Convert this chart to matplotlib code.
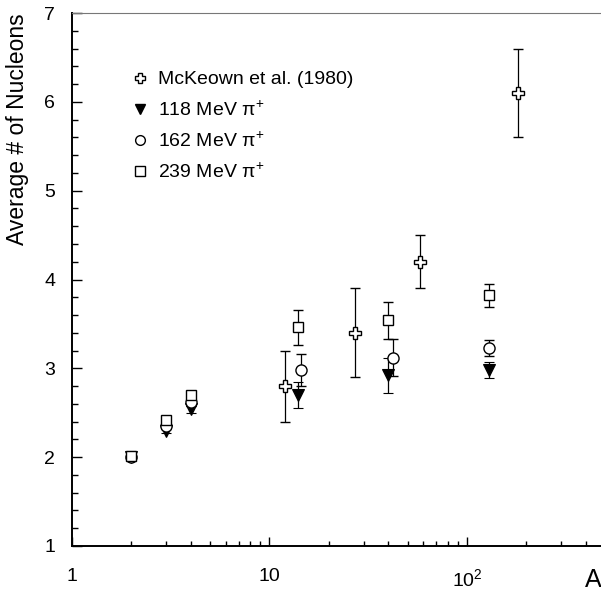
import matplotlib
matplotlib.use("Agg")
import matplotlib.pyplot as plt
from matplotlib.ticker import FixedLocator, FixedFormatter, MultipleLocator
from matplotlib.lines import Line2D

plt.rcParams['font.family'] = ['Liberation Sans', 'DejaVu Sans']
plt.rcParams['mathtext.fontset'] = 'custom'
plt.rcParams['mathtext.rm'] = 'Liberation Sans'
plt.rcParams['mathtext.it'] = 'Liberation Sans:italic'

# McKeown et al. (1980)
mck_A = [12, 27, 58, 181]
mck_N = [2.8, 3.4, 4.2, 6.1]
mck_err = [0.4, 0.5, 0.3, 0.5]

# 118 MeV pi+
a118 = [2, 3, 4, 14, 40, 130]
n118 = [2.00, 2.30, 2.54, 2.70, 2.92, 2.98]
e118 = [0.02, 0.03, 0.04, 0.15, 0.20, 0.09]

# 162 MeV pi+
a162 = [2, 3, 4, 14.5, 42, 130]
n162 = [2.00, 2.35, 2.62, 2.98, 3.12, 3.23]
e162 = [0.02, 0.03, 0.04, 0.18, 0.21, 0.09]

# 239 MeV pi+
a239 = [2, 3, 4, 14, 40, 130]
n239 = [2.01, 2.42, 2.70, 3.46, 3.54, 3.82]
e239 = [0.02, 0.03, 0.05, 0.20, 0.21, 0.13]

labels = ["McKeown et al. (1980)", "118 MeV π$^{+}$",
          "162 MeV π$^{+}$", "239 MeV π$^{+}$"]
xticks = [1, 10, 100]
xticklabels = ["1", "10", r"$10^{2}$"]

fig = plt.figure(figsize=(6.01, 5.94), dpi=100)
ax = fig.add_axes([72/601, 48/594, 529/601, 533/594])

ax.set_xscale('log')
ax.set_xlim(1, 477)
ax.set_ylim(1, 7)

ebkw = dict(ecolor='black', elinewidth=0.9, capsize=3.6, capthick=0.9,
            linestyle='none', markeredgecolor='black')

ax.errorbar(mck_A, mck_N, yerr=mck_err, marker='P', markersize=9,
            markerfacecolor='white', markeredgewidth=1.0, zorder=3, **ebkw)
ax.errorbar(a118, n118, yerr=e118, marker='v', markersize=8,
            markerfacecolor='black', markeredgewidth=0.8, zorder=4, **ebkw)
ax.errorbar(a162, n162, yerr=e162, marker='o', markersize=8,
            markerfacecolor='white', markeredgewidth=1.0, zorder=5, **ebkw)
ax.errorbar(a239, n239, yerr=e239, marker='s', markersize=7.5,
            markerfacecolor='white', markeredgewidth=1.0, zorder=6, **ebkw)

# axes frame
ax.spines['right'].set_visible(False)
ax.spines['top'].set_color('#777777')
ax.spines['top'].set_linewidth(0.8)
for s in ('left', 'bottom'):
    ax.spines[s].set_linewidth(1.4)
    ax.spines[s].set_color('black')

ax.xaxis.set_major_locator(FixedLocator(xticks))
ax.xaxis.set_major_formatter(FixedFormatter(xticklabels))
minors = [m * 10**d for d in range(0, 3) for m in range(2, 10)]
ax.xaxis.set_minor_locator(FixedLocator(minors))
ax.xaxis.set_minor_formatter(FixedFormatter([]))
ax.yaxis.set_major_locator(MultipleLocator(1))
ax.yaxis.set_minor_locator(MultipleLocator(0.2))

ax.tick_params(axis='both', which='both', direction='in', top=False, right=False,
               color='black', width=1.0)
ax.tick_params(axis='x', which='major', length=6.5, labelsize=14, pad=16)
ax.tick_params(axis='x', which='minor', length=3.6)
ax.tick_params(axis='y', which='major', length=7.2, labelsize=14, pad=12)
ax.tick_params(axis='y', which='minor', length=4.0)

fig.text(18/601, 1 - 13/594, "Average # of Nucleons", rotation=90,
         ha='center', va='top', fontsize=16.5)
fig.text(593/601, 1 - 580/594, "A", ha='center', va='center', fontsize=18)

handles = [
    Line2D([], [], marker='P', markersize=7, markerfacecolor='white',
           markeredgecolor='black', linestyle='none'),
    Line2D([], [], marker='v', markersize=7, markerfacecolor='black',
           markeredgecolor='black', linestyle='none'),
    Line2D([], [], marker='o', markersize=7, markerfacecolor='white',
           markeredgecolor='black', linestyle='none'),
    Line2D([], [], marker='s', markersize=7, markerfacecolor='white',
           markeredgecolor='black', linestyle='none'),
]
ax.legend(handles, labels, loc='upper left', bbox_to_anchor=(0.1, 0.906),
          frameon=False, fontsize=14, handlelength=0.8, handletextpad=0.5,
          labelspacing=0.6, borderaxespad=0)

fig.savefig("out.png", dpi=100)
